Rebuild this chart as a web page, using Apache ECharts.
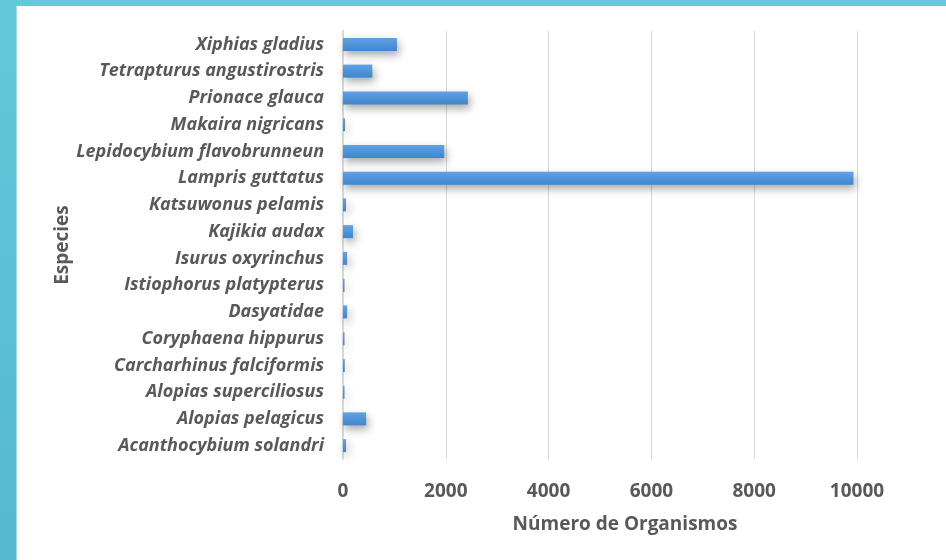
<!DOCTYPE html>
<html>
<head>
<meta charset="utf-8">
<script src="https://cdn.jsdelivr.net/npm/echarts@6/dist/echarts.min.js"></script>
<style>
  html, body { margin: 0; padding: 0; background: #fff; }
  #chart { width: 946px; height: 560px; }
</style>
</head>
<body>
<div id="chart"></div>
<script>
// especies, de arriba hacia abajo
const species = [
  'Xiphias gladius',
  'Tetrapturus angustirostris',
  'Prionace glauca',
  'Makaira nigricans',
  'Lepidocybium flavobrunneun',
  'Lampris guttatus',
  'Katsuwonus pelamis',
  'Kajikia audax',
  'Isurus oxyrinchus',
  'Istiophorus platypterus',
  'Dasyatidae',
  'Coryphaena hippurus',
  'Carcharhinus falciformis',
  'Alopias superciliosus',
  'Alopias pelagicus',
  'Acanthocybium solandri'
]
const organismos = [1050, 570, 2430, 40, 1970, 9930, 60, 195, 80, 30, 80, 30, 35, 30, 450, 60]
const xTicks = [0, 2000, 4000, 6000, 8000, 10000]

const gray = '#595959'
const font = 'Open Sans'
const myChart = echarts.init(document.getElementById('chart'))
myChart.setOption({
  backgroundColor: '#fff',
  animation: false,
  graphic: [
    { type: 'rect', left: 0, top: 0, shape: { width: 946, height: 6 }, style: { fill: '#62c9dc' }, z: 100 },
    {
      type: 'rect', left: 0, top: 0, shape: { width: 16, height: 560 },
      style: {
        fill: new echarts.graphic.LinearGradient(0, 0, 0, 1, [
          { offset: 0, color: '#62c9dc' },
          { offset: 1, color: '#56b8d0' }
        ])
      },
      z: 100
    },
    { type: 'rect', left: 16, top: 6, shape: { width: 1, height: 554 }, style: { fill: '#9adbe8' }, z: 100 }
  ],
  grid: {
    left: 343,
    right: 89,
    top: 31,
    bottom: 101
  },
  xAxis: {
    type: 'value',
    min: xTicks[0],
    max: xTicks[xTicks.length - 1],
    interval: 2000,
    name: 'Número de Organismos',
    nameLocation: 'middle',
    nameGap: 56,
    nameMoveOverlap: false,
    nameTextStyle: {
      color: gray,
      fontFamily: font,
      fontWeight: 'bold',
      fontSize: 19,
      padding: [0, 0, 0, 50]
    },
    axisLine: { show: false },
    axisTick: { show: false },
    axisLabel: {
      color: gray,
      fontFamily: font,
      fontWeight: 'bold',
      fontSize: 19,
      margin: 23,
      formatter: v => String(v)
    },
    splitLine: { lineStyle: { color: '#d9d9d9', width: 1 } }
  },
  yAxis: {
    type: 'category',
    data: species,
    inverse: true,
    name: 'Especies',
    nameLocation: 'middle',
    nameGap: 271,
    nameMoveOverlap: false,
    nameTextStyle: {
      color: gray,
      fontFamily: font,
      fontWeight: 'bold',
      fontSize: 19
    },
    axisLine: { lineStyle: { color: '#d9d9d9', width: 2 } },
    axisTick: { show: false },
    axisLabel: {
      color: gray,
      fontFamily: font,
      fontStyle: 'italic',
      fontWeight: 'bold',
      fontSize: 18,
      margin: 19
    }
  },
  series: [
    {
      name: 'Número de Organismos',
      type: 'bar',
      data: organismos,
      barWidth: 13,
      itemStyle: {
        color: new echarts.graphic.LinearGradient(0, 0, 0, 1, [
          { offset: 0, color: '#61a2e2' },
          { offset: 1, color: '#3d86cf' }
        ]),
        shadowColor: 'rgba(0,0,0,0.35)',
        shadowBlur: 8,
        shadowOffsetX: 2,
        shadowOffsetY: 4
      }
    }
  ]
})
</script>
</body>
</html>
